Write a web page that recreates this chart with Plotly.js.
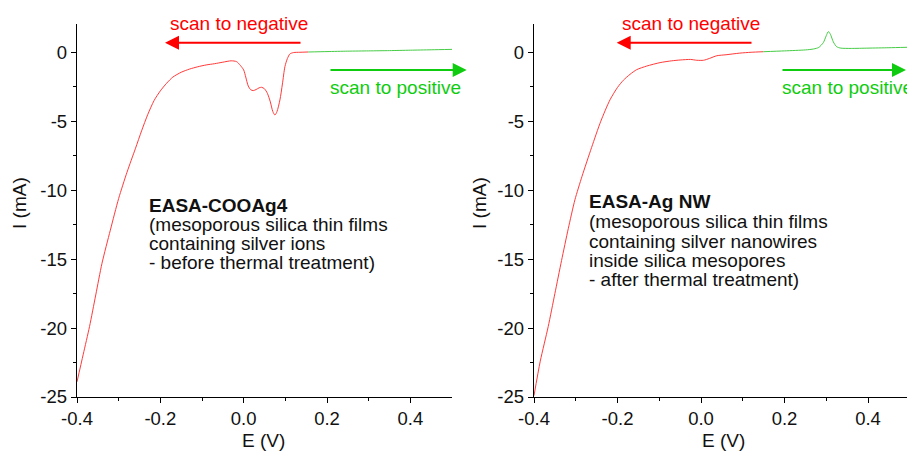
<!DOCTYPE html>
<html>
<head>
<meta charset="utf-8">
<script src="https://cdn.plot.ly/plotly-3.0.1.min.js"></script>
<style>html,body{margin:0;padding:0;background:#fff;}#chart{width:907px;height:452px;}</style>
</head>
<body>
<div id="chart"></div>
<script>
// ---- Data ----
// Left panel: EASA-COOAg4
const leftNegE = [-0.4, -0.385, -0.37, -0.355, -0.34, -0.32, -0.3, -0.28, -0.26, -0.245, -0.23, -0.215, -0.2, -0.185, -0.17, -0.15, -0.13, -0.11, -0.09, -0.07, -0.05, -0.03, -0.017, -0.008, 0.0, 0.005, 0.011, 0.017, 0.023, 0.03, 0.037, 0.043, 0.05, 0.057, 0.064, 0.07, 0.075, 0.08, 0.087, 0.093, 0.099, 0.105, 0.111, 0.12, 0.135, 0.155];
const leftNegI = [-23.9, -21.9, -19.9, -17.6, -15.3, -12.9, -10.6, -8.7, -7.0, -5.7, -4.5, -3.5, -2.8, -2.25, -1.8, -1.45, -1.22, -1.05, -0.92, -0.83, -0.72, -0.62, -0.68, -0.95, -1.28, -1.8, -2.45, -2.72, -2.78, -2.7, -2.58, -2.54, -2.65, -2.98, -3.6, -4.3, -4.55, -4.3, -3.46, -2.3, -1.04, -0.45, -0.12, -0.02, 0.0, 0.02];
const leftPosE = [0.155, 0.2, 0.25, 0.3, 0.35, 0.4, 0.45, 0.5];
const leftPosI = [0.02, 0.05, 0.08, 0.1, 0.12, 0.15, 0.18, 0.21];

// Right panel: EASA-Ag NW
const rightNegE = [-0.4, -0.385, -0.366, -0.35, -0.334, -0.318, -0.302, -0.285, -0.262, -0.24, -0.218, -0.2, -0.186, -0.17, -0.154, -0.13, -0.098, -0.07, -0.05, -0.025, -0.01, 0.006, 0.02, 0.038, 0.06, 0.093, 0.12, 0.149];
const rightNegI = [-24.9, -22.4, -19.9, -17.5, -15.1, -12.8, -10.7, -9.0, -6.9, -5.0, -3.45, -2.55, -2.03, -1.6, -1.26, -1.0, -0.75, -0.62, -0.56, -0.52, -0.58, -0.58, -0.45, -0.25, -0.18, -0.06, 0.0, 0.04];
const rightPosE = [0.149, 0.2, 0.25, 0.27, 0.282, 0.293, 0.3, 0.305, 0.31, 0.317, 0.325, 0.335, 0.36, 0.4, 0.45, 0.4934];
const rightPosI = [0.04, 0.1, 0.17, 0.24, 0.35, 0.7, 1.2, 1.5, 1.3, 0.75, 0.4, 0.3, 0.28, 0.3, 0.33, 0.36];

// Ticks
const xTickVals = [-0.4, -0.2, 0.0, 0.2, 0.4];
const xTickText = ["-0.4", "-0.2", "0.0", "0.2", "0.4"];
const xMinorVals = [-0.3, -0.1, 0.1, 0.3];
const yTickVals = [-25, -20, -15, -10, -5, 0];
const yTickText = ["-25", "-20", "-15", "-10", "-5", "0"];
const yMinorVals = [-22.5, -17.5, -12.5, -7.5, -2.5];

// Labels
const xTitle = "E (V)";
const yTitle = "I (mA)";
const negLabel = "scan to negative";
const posLabel = "scan to positive";
const leftLines = ["<b>EASA-COOAg4</b>", "(mesoporous silica thin films", "containing silver ions", "- before thermal treatment)"];
const rightLines = ["<b>EASA-Ag NW</b>", "(mesoporous silica thin films", "containing silver nanowires", "inside silica mesopores", "- after thermal treatment)"];

// ---- Layout helpers ----
const W = 907, H = 452;
const FONT = "Liberation Sans, Arial, Helvetica, sans-serif";
const RED = "#ff0000", GREEN = "#10cc10", TXT = "#111111";
const px = v => v / W;
const py = v => 1 - v / H;

function xAxis(domain, range) {
  return {
    domain: domain, range: range, showgrid: false, zeroline: false,
    showline: true, linecolor: "#000", linewidth: 1.2, mirror: false,
    ticks: "outside", ticklen: 5, tickwidth: 1, tickcolor: "#000",
    tickmode: "array", tickvals: xTickVals, ticktext: xTickText,
    tickfont: {family: FONT, size: 18.5, color: TXT},
    minor: {tickmode: "array", tickvals: xMinorVals, ticks: "outside", ticklen: 3, tickwidth: 1, tickcolor: "#000"},
    automargin: false, fixedrange: true
  };
}
function yAxis(anchor, range) {
  return {
    anchor: anchor, domain: [1 - 397 / H, 1 - 24 / H], range: range,
    showgrid: false, zeroline: false,
    showline: true, linecolor: "#000", linewidth: 1.2, mirror: false,
    ticks: "outside", ticklen: 5, tickwidth: 1, tickcolor: "#000",
    tickmode: "array", tickvals: yTickVals, ticktext: yTickText,
    tickfont: {family: FONT, size: 18.5, color: TXT},
    minor: {tickmode: "array", tickvals: yMinorVals, ticks: "outside", ticklen: 3, tickwidth: 1, tickcolor: "#000"},
    automargin: false, fixedrange: true
  };
}

const redLine = {color: "#ff3a3a", width: 1, shape: "spline", smoothing: 0.7};
const greenLine = {color: "#45cc45", width: 1, shape: "spline", smoothing: 0.7};
const traces = [
  {x: leftNegE, y: leftNegI, xaxis: "x", yaxis: "y", mode: "lines", line: redLine, hoverinfo: "skip"},
  {x: leftPosE, y: leftPosI, xaxis: "x", yaxis: "y", mode: "lines", line: greenLine, hoverinfo: "skip"},
  {x: rightNegE, y: rightNegI, xaxis: "x2", yaxis: "y2", mode: "lines", line: redLine, hoverinfo: "skip"},
  {x: rightPosE, y: rightPosI, xaxis: "x2", yaxis: "y2", mode: "lines", line: greenLine, hoverinfo: "skip"}
];

function txt(text, x, y, opts) {
  return Object.assign({
    text: text, xref: "paper", yref: "paper", x: px(x), y: py(y),
    xanchor: "center", yanchor: "middle", showarrow: false,
    font: {family: FONT, size: 19, color: TXT}
  }, opts || {});
}
function arrow(tipX, tailX, y, color) {
  return {
    text: "", xref: "paper", yref: "paper", x: px(tipX), y: py(y),
    axref: "pixel", ayref: "pixel", ax: tailX - tipX, ay: 0,
    showarrow: true, arrowhead: 2, arrowsize: 1.4, arrowwidth: 2, arrowcolor: color,
    standoff: 0, startstandoff: 0
  };
}

const ann = [
  txt(xTitle, 263, 440), txt(xTitle, 723, 440),
  txt(yTitle, 19, 203, {textangle: -90}), txt(yTitle, 479, 203, {textangle: -90}),
  txt(negLabel, 239, 23, {font: {family: FONT, size: 19, color: RED}}),
  txt(negLabel, 691, 23, {font: {family: FONT, size: 19, color: RED}}),
  txt(posLabel, 395.5, 88, {font: {family: FONT, size: 19, color: GREEN}}),
  txt(posLabel, 780, 88, {xanchor: "left", font: {family: FONT, size: 19, color: GREEN}}),
  arrow(165, 302, 42.7, RED), arrow(616.7, 753, 42.7, RED),
  arrow(466.7, 329, 70, GREEN), arrow(918, 781, 70, GREEN)
];
const leftY = [205, 224, 243, 262];
leftLines.forEach((t, i) => ann.push(txt(t, 147, leftY[i], {xanchor: "left"})));
const rightY = [202, 221.5, 241, 260, 279];
rightLines.forEach((t, i) => ann.push(txt(t, 587, rightY[i], {xanchor: "left"})));

const layout = {
  width: W, height: H, margin: {l: 0, r: 0, t: 0, b: 0, pad: 0},
  paper_bgcolor: "#fff", plot_bgcolor: "#fff", showlegend: false,
  xaxis: xAxis([77 / W, 452 / W], [-0.4, 0.5]),
  yaxis: yAxis("x", [-25, 2.05]),
  xaxis2: Object.assign(xAxis([534 / W, 1], [-0.4, 0.4934]), {anchor: "y2"}),
  yaxis2: yAxis("x2", [-25, 2.05]),
  annotations: ann
};
layout.xaxis.anchor = "y";

Plotly.newPlot("chart", traces, layout, {displayModeBar: false, staticPlot: true});
</script>
</body>
</html>
